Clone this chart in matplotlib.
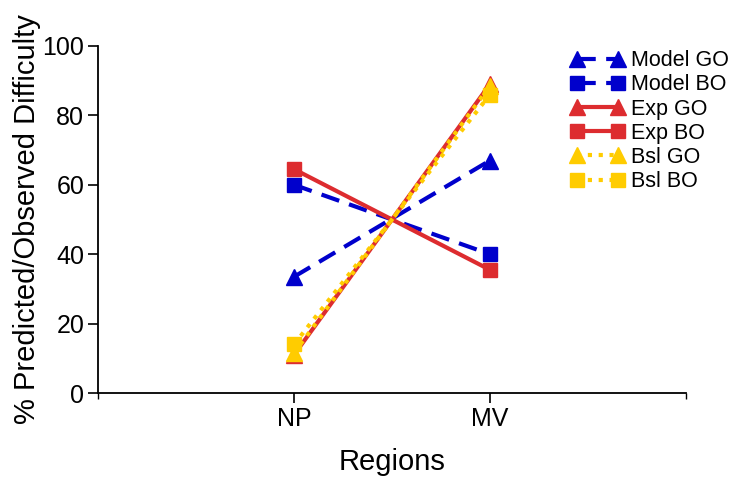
import matplotlib
matplotlib.use("Agg")
import matplotlib.pyplot as plt

plt.rcParams['font.family'] = ['Liberation Sans', 'DejaVu Sans']

regions = ["NP", "MV"]
x_pos = [1, 2]
model_go = [33.5, 67.0]
model_bo = [60.0, 40.0]
exp_go = [11.0, 89.0]
exp_bo = [64.5, 35.5]
bsl_go = [11.5, 88.5]
bsl_bo = [14.0, 86.0]

blue = "#0000CC"
red = "#DD2C2F"
yellow = "#FFCC00"

fig = plt.figure(figsize=(7.32, 4.82), dpi=100)
ax = fig.add_axes([0.134, 0.1846, 0.803, 0.72])

lw = 3.0
ms_t = 12
ms_s = 10
dash = (0, (4.5, 2.5))
dot = (0, (1, 1.6))
h = []
h += ax.plot(x_pos, model_go, color=blue, ls=dash, lw=lw, marker='^', ms=ms_t, label="Model GO")
h += ax.plot(x_pos, model_bo, color=blue, ls=dash, lw=lw, marker='s', ms=ms_s, label="Model BO")
h += ax.plot(x_pos, exp_go, color=red, ls='-', lw=lw, marker='^', ms=ms_t, label="Exp GO")
h += ax.plot(x_pos, exp_bo, color=red, ls='-', lw=lw, marker='s', ms=ms_s, label="Exp BO")
h += ax.plot(x_pos, bsl_go, color=yellow, ls=dot, lw=lw, marker='^', ms=ms_t, label="Bsl GO")
h += ax.plot(x_pos, bsl_bo, color=yellow, ls=dot, lw=lw, marker='s', ms=ms_s, label="Bsl BO")

ax.set_xlim(0, 3)
ax.set_ylim(0, 100)
ax.set_xticks(x_pos)
ax.set_xticklabels(regions)
ax.set_xticks([0, 3], minor=True)
ax.set_yticks([0, 20, 40, 60, 80, 100])
ax.tick_params(axis='both', which='major', labelsize=18, length=7, width=1.2,
               direction='out', colors='black', pad=3)
ax.tick_params(axis='x', which='minor', length=4, width=1.0)
ax.spines['top'].set_visible(False)
ax.spines['right'].set_visible(False)
ax.spines['left'].set_linewidth(1.3)
ax.spines['bottom'].set_linewidth(1.3)
ax.set_xlabel("Regions", fontsize=21, labelpad=12)
ax.set_ylabel("% Predicted/Observed Difficulty", fontsize=21, labelpad=1)

leg = fig.legend(handles=h, loc='upper left', bbox_to_anchor=(0.768, 0.914),
                 frameon=False, fontsize=15.5, numpoints=2, handlelength=2.5,
                 handletextpad=0.3, labelspacing=0.15, borderaxespad=0)

fig.savefig("out.png", dpi=100)
